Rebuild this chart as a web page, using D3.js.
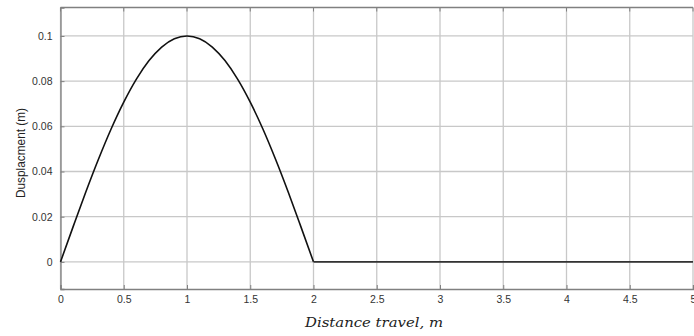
<!DOCTYPE html>
<html><head><meta charset="utf-8">
<script src="https://cdn.jsdelivr.net/npm/d3@7"></script>
<style>body{margin:0;background:#fff}svg{display:block}</style>
</head><body>
<script>
const xValues = [0,0.1,0.2,0.3,0.4,0.5,0.6,0.7,0.8,0.9,1.0,1.1,1.2,1.3,1.4,1.5,1.6,1.7,1.8,1.9,2.0,5.0];
const displacement = [0,0.0156,0.0309,0.0454,0.0588,0.0707,0.0809,0.0891,0.0951,0.0988,0.1,0.0988,0.0951,0.0891,0.0809,0.0707,0.0588,0.0454,0.0309,0.0156,0,0];
const xTicks = [0,0.5,1,1.5,2,2.5,3,3.5,4,4.5,5];
const yTicks = [0,0.02,0.04,0.06,0.08,0.1];
const xTitle = "Distance travel, m";
const yTitle = "Dusplacment (m)";

const W = 694, H = 336;
const m = {l: 60.5, r: 1, t: 7.5, b: 47};
const svg = d3.select("body").append("svg").attr("width", W).attr("height", H);
const x = d3.scaleLinear().domain([0,5]).range([m.l, W - m.r]);
const y = d3.scaleLinear().domain([-0.012, 0.1126]).range([H - m.b, m.t]);

// grid
svg.append("g").selectAll("line").data(xTicks).join("line")
  .attr("x1", d => x(d)).attr("x2", d => x(d)).attr("y1", m.t).attr("y2", H - m.b)
  .attr("stroke", "#c8c8c8").attr("stroke-width", 1.3);
svg.append("g").selectAll("line").data(yTicks).join("line")
  .attr("x1", m.l).attr("x2", W - m.r).attr("y1", d => y(d)).attr("y2", d => y(d))
  .attr("stroke", "#c8c8c8").attr("stroke-width", 1.3);

// axes
const xAxis = d3.axisBottom(x).tickValues(xTicks).tickSize(-4).tickFormat(d3.format("~g")).tickPadding(7);
const gx = svg.append("g").attr("transform", `translate(0,${H - m.b})`).call(xAxis);
const yAxis = d3.axisLeft(y).tickValues(yTicks).tickSize(-4).tickFormat(d3.format("~g")).tickPadding(8);
const gy = svg.append("g").attr("transform", `translate(${m.l},0)`).call(yAxis);
[gx, gy].forEach(g => {
  g.select(".domain").attr("stroke", "#808080").attr("stroke-width", 1.3);
  g.selectAll(".tick line").attr("stroke", "#808080");
  g.selectAll("text").attr("fill", "#333").attr("font-family", "Liberation Sans, Arial, sans-serif").attr("font-size", 10.5);
});
// top border
svg.append("line").attr("x1", m.l).attr("x2", W - m.r).attr("y1", m.t).attr("y2", m.t)
  .attr("stroke", "#808080").attr("stroke-width", 1.3);
svg.append("g").selectAll("line").data(xTicks).join("line")
  .attr("x1", d => x(d)).attr("x2", d => x(d)).attr("y1", m.t).attr("y2", m.t + 4)
  .attr("stroke", "#808080");

// data line
const pts = xValues.map((v, i) => [v, displacement[i]]);
const line = d3.line().x(d => x(d[0])).y(d => y(d[1])).curve(d3.curveMonotoneX);
svg.append("path").datum(pts.slice(0, 21)).attr("d", line)
  .attr("fill", "none").attr("stroke", "#111").attr("stroke-width", 1.6);
svg.append("path").datum(pts.slice(20)).attr("d", d3.line().x(d => x(d[0])).y(d => y(d[1])))
  .attr("fill", "none").attr("stroke", "#333").attr("stroke-width", 1.6);

// titles
svg.append("text").attr("x", 374).attr("y", 327).attr("text-anchor", "middle")
  .attr("font-family", "DejaVu Serif, serif").attr("font-style", "italic").attr("font-size", 12.5)
  .attr("fill", "#222").attr("textLength", 138).attr("lengthAdjust", "spacingAndGlyphs").text(xTitle);
svg.append("text").attr("transform", `translate(25,153) rotate(-90)`)
  .attr("text-anchor", "middle").attr("font-family", "Liberation Sans, sans-serif")
  .attr("font-size", 13).attr("fill", "#222")
  .attr("textLength", 90).attr("lengthAdjust", "spacingAndGlyphs").text(yTitle);
</script>
</body></html>
